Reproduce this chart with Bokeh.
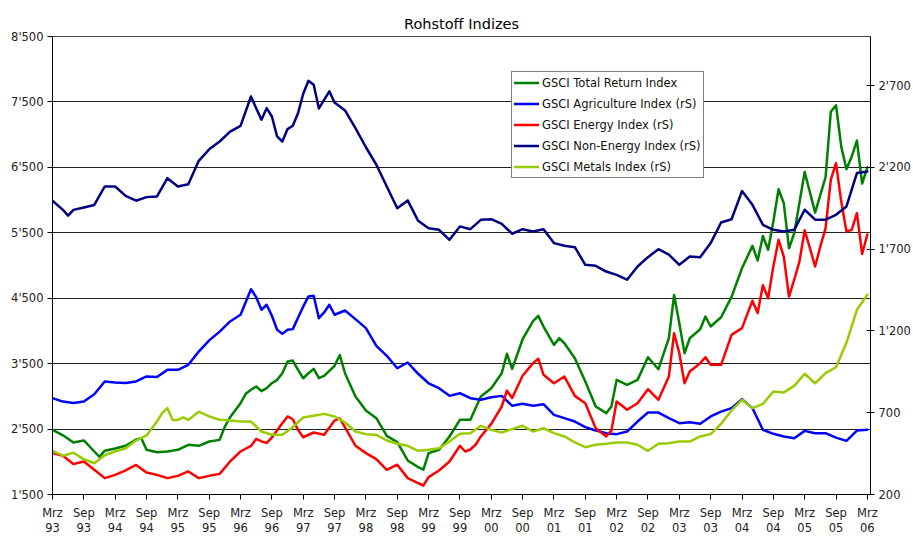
from bokeh.plotting import figure
from bokeh.models import Range1d, LinearAxis, FixedTicker, Legend, LegendItem
from bokeh.embed import file_html
from bokeh.resources import INLINE

# ---------------- data (months counted from March 1993) ----------------
left_ticks = [1500, 2500, 3500, 4500, 5500, 6500, 7500, 8500]
left_labels = ["1'500", "2'500", "3'500", "4'500", "5'500", "6'500", "7'500", "8'500"]
right_ticks = [200, 700, 1200, 1700, 2200, 2700]
right_labels = ["200", "700", "1'200", "1'700", "2'200", "2'700"]
x_ticks = [0, 6, 12, 18, 24, 30, 36, 42, 48, 54, 60, 66, 72, 78, 84, 90, 96,
           102, 108, 114, 120, 126, 132, 138, 144, 150, 156]
x_labels = ["Mrz\n93", "Sep\n93", "Mrz\n94", "Sep\n94", "Mrz\n95", "Sep\n95",
            "Mrz\n96", "Sep\n96", "Mrz\n97", "Sep\n97", "Mrz\n98", "Sep\n98",
            "Mrz\n99", "Sep\n99", "Mrz\n00", "Sep\n00", "Mrz\n01", "Sep\n01",
            "Mrz\n02", "Sep\n02", "Mrz\n03", "Sep\n03", "Mrz\n04", "Sep\n04",
            "Mrz\n05", "Sep\n05", "Mrz\n06"]

tr_months = [0, 2, 4, 6, 8, 9, 10, 12, 14, 16, 17, 18, 20, 22, 24, 26, 28, 30, 32, 33,
             34, 36, 37, 38, 39, 40, 41, 42, 43, 44, 45, 46, 47, 48, 49, 50, 51, 52, 53,
             54, 55, 56, 58, 60, 62, 64, 66, 68, 70, 71, 72, 74, 76, 78, 80, 82, 84, 86,
             87, 88, 90, 92, 93, 94, 96, 97, 98, 100, 102, 104, 106, 107, 108, 110, 112,
             114, 116, 118, 119, 120, 121, 122, 124, 125, 126, 128, 130, 132, 134, 135,
             136, 137, 138, 139, 140, 141, 142, 144, 146, 148, 149, 150, 151, 152, 153,
             154, 155, 156]
tr_values = [2489, 2405, 2295, 2326, 2157, 2075, 2170, 2203, 2244, 2340, 2360, 2183, 2147,
             2157, 2183, 2259, 2244, 2310, 2335, 2539, 2682, 2896, 3039, 3100, 3150, 3080,
             3125, 3201, 3252, 3353, 3532, 3547, 3405, 3277, 3353, 3420, 3277, 3313, 3389,
             3467, 3630, 3353, 2997, 2784, 2666, 2397, 2300, 2020, 1918, 1880, 2132, 2183,
             2386, 2641, 2641, 2998, 3125, 3353, 3650, 3420, 3873, 4150, 4230, 4067, 3787,
             3889, 3812, 3583, 3227, 2845, 2743, 2845, 3252, 3176, 3252, 3598, 3415, 3889,
             4550, 4117, 3659, 3888, 4026, 4220, 4067, 4209, 4520, 4958, 5300, 5076, 5450,
             5240, 5672, 6166, 5951, 5263, 5493, 6430, 5809, 6350, 7350, 7450, 6817, 6471,
             6665, 6910, 6250, 6500]

agri_months = [0, 2, 4, 6, 8, 10, 12, 14, 16, 18, 20, 22, 24, 26, 28, 30, 32, 34, 36, 38,
               39, 40, 41, 42, 43, 44, 45, 46, 48, 49, 50, 51, 52, 53, 54, 56, 58, 60, 62,
               64, 66, 68, 70, 72, 74, 76, 78, 80, 82, 84, 86, 88, 90, 92, 94, 96, 98, 100,
               102, 104, 106, 108, 110, 112, 114, 116, 118, 120, 122, 124, 126, 128, 130,
               132, 134, 136, 138, 140, 142, 144, 146, 148, 150, 152, 154, 156]
agri_values = [789, 768, 760, 768, 813, 891, 885, 881, 891, 922, 918, 962, 962, 993, 1074,
               1142, 1196, 1258, 1299, 1455, 1406, 1329, 1360, 1293, 1207, 1182, 1207, 1211,
               1349, 1411, 1415, 1278, 1313, 1360, 1299, 1325, 1272, 1217, 1109, 1048, 972,
               1007, 938, 880, 850, 803, 819, 789, 779, 795, 803, 742, 755, 742, 752, 687,
               667, 646, 612, 591, 575, 569, 585, 646, 701, 701, 667, 636, 642, 632, 677,
               707, 728, 783, 728, 596, 571, 555, 544, 589, 575, 575, 548, 528, 591, 596]

energy_months = [0, 2, 4, 6, 8, 10, 12, 14, 16, 18, 20, 22, 24, 26, 28, 30, 32, 34, 36, 38,
                 39, 40, 41, 42, 44, 45, 46, 47, 48, 50, 52, 54, 55, 56, 58, 60, 62, 64, 66,
                 68, 70, 71, 72, 74, 76, 78, 79, 80, 81, 82, 84, 86, 87, 88, 90, 92, 93, 94,
                 96, 98, 100, 102, 104, 106, 107, 108, 110, 112, 114, 116, 118, 119, 120,
                 121, 122, 124, 125, 126, 128, 130, 132, 134, 135, 136, 137, 138, 139, 140,
                 141, 142, 143, 144, 145, 146, 147, 148, 149, 150, 151, 152, 153, 154, 155,
                 156]
energy_values = [453, 437, 387, 402, 351, 300, 320, 347, 381, 334, 320, 300, 314, 341, 300,
                 314, 326, 402, 463, 497, 540, 525, 515, 548, 636, 677, 660, 595, 550, 579,
                 565, 652, 665, 611, 498, 453, 416, 351, 382, 300, 269, 255, 306, 347, 402,
                 498, 463, 475, 504, 555, 632, 738, 835, 790, 926, 1003, 1030, 932, 880, 921,
                 803, 758, 605, 555, 590, 769, 718, 758, 844, 779, 921, 1186, 1064, 880, 952,
                 1003, 1039, 993, 993, 1176, 1217, 1385, 1309, 1480, 1400, 1594, 1757, 1655,
                 1410, 1513, 1625, 1815, 1706, 1594, 1716, 1828, 2124, 2226, 1991, 1808,
                 1818, 1920, 1670, 1790]

nonen_months = [0, 2, 3, 4, 6, 8, 10, 12, 14, 16, 18, 20, 22, 24, 26, 28, 30, 32, 34, 36,
                38, 39, 40, 41, 42, 43, 44, 45, 46, 47, 48, 49, 50, 51, 52, 53, 54, 56, 58,
                60, 62, 64, 66, 68, 70, 72, 74, 76, 78, 80, 82, 84, 86, 88, 90, 92, 94, 96,
                98, 100, 102, 104, 106, 108, 110, 112, 114, 116, 118, 120, 122, 124, 126,
                128, 130, 132, 134, 136, 138, 140, 142, 144, 146, 148, 150, 152, 154, 156]
nonen_values = [1996, 1940, 1905, 1940, 1955, 1970, 2083, 2083, 2026, 1996, 2018, 2022,
                2134, 2083, 2097, 2240, 2310, 2358, 2419, 2454, 2633, 2562, 2491, 2562,
                2511, 2389, 2358, 2434, 2454, 2531, 2650, 2729, 2705, 2560, 2613, 2665,
                2597, 2548, 2440, 2323, 2216, 2083, 1950, 1998, 1873, 1828, 1818, 1757,
                1839, 1822, 1879, 1883, 1855, 1794, 1822, 1808, 1822, 1737, 1721, 1712,
                1604, 1598, 1563, 1543, 1513, 1594, 1651, 1700, 1666, 1604, 1655, 1651,
                1737, 1863, 1883, 2055, 1971, 1849, 1818, 1808, 1818, 1941, 1880, 1880,
                1910, 1961, 2165, 2175]

metals_months = [0, 2, 4, 6, 8, 10, 12, 14, 16, 18, 20, 21, 22, 23, 24, 25, 26, 28, 30, 32,
                 34, 36, 38, 40, 42, 44, 46, 48, 50, 52, 54, 56, 58, 60, 62, 64, 66, 68, 70,
                 72, 74, 76, 78, 80, 82, 84, 86, 88, 90, 92, 94, 96, 98, 100, 102, 104, 106,
                 108, 110, 112, 114, 116, 118, 120, 122, 124, 126, 128, 130, 132, 134, 136,
                 138, 140, 142, 144, 146, 148, 150, 152, 154, 156]
metals_values = [467, 437, 455, 416, 391, 440, 463, 483, 530, 561, 646, 697, 728, 656, 656,
                 671, 656, 706, 677, 657, 653, 646, 646, 585, 565, 565, 611, 671, 681, 693,
                 677, 640, 585, 569, 565, 530, 510, 498, 467, 473, 483, 524, 571, 575, 620,
                 595, 579, 600, 620, 585, 605, 575, 555, 518, 489, 504, 510, 518, 518, 504,
                 467, 510, 514, 524, 524, 555, 569, 632, 714, 779, 728, 754, 830, 824, 864,
                 938, 880, 942, 978, 1129, 1329, 1421]

FONT = "DejaVu Sans"

p = figure(width=913, height=538, x_range=Range1d(0, 156.6), y_range=Range1d(1500, 8500),
           output_backend="svg", toolbar_location=None,
           min_border_left=52, min_border_right=43, min_border_top=36, min_border_bottom=44,
           title="Rohstoff Indizes")
p.title.text_font = FONT
p.title.text_font_size = "14.5px"
p.title.text_font_style = "normal"
p.title.align = "center"
p.title.text_color = "black"

p.extra_y_ranges = {"rs": Range1d(200, 3000)}

style = dict(line_width=2.5, line_join="round", line_cap="round")
r_tr = p.line(tr_months, tr_values, line_color="#008000", **style)
r_ag = p.line(agri_months, agri_values, line_color="#0000FF", y_range_name="rs", **style)
r_en = p.line(energy_months, energy_values, line_color="#FF0000", y_range_name="rs", **style)
r_ne = p.line(nonen_months, nonen_values, line_color="#000080", y_range_name="rs", **style)
r_me = p.line(metals_months, metals_values, line_color="#99CC00", y_range_name="rs", **style)

# axes
for ax in [p.xaxis[0], p.yaxis[0]]:
    ax.axis_line_color = "black"
    ax.major_tick_line_color = "black"
    ax.minor_tick_line_color = None
    ax.major_tick_in = 0
    ax.major_tick_out = 5
    ax.major_label_text_font = FONT
    ax.major_label_text_font_size = "11.5px"
    ax.major_label_text_color = "#222222"

p.yaxis[0].ticker = FixedTicker(ticks=left_ticks)
p.yaxis[0].major_label_overrides = dict(zip(left_ticks, left_labels))
p.yaxis[0].major_label_standoff = 4

p.xaxis[0].ticker = FixedTicker(ticks=x_ticks)
p.xaxis[0].major_label_overrides = dict(zip(x_ticks, x_labels))
p.xaxis[0].major_label_standoff = 6
p.xaxis[0].major_label_text_line_height = 1.1

raxis = LinearAxis(y_range_name="rs", ticker=FixedTicker(ticks=right_ticks),
                   major_label_overrides=dict(zip(right_ticks, right_labels)))
raxis.axis_line_color = "black"
raxis.major_tick_line_color = "black"
raxis.minor_tick_line_color = None
raxis.major_tick_in = 4
raxis.major_tick_out = 4
raxis.major_label_standoff = 4
raxis.major_label_text_font = FONT
raxis.major_label_text_font_size = "11.5px"
raxis.major_label_text_color = "#222222"
p.add_layout(raxis, "right")

p.xgrid.visible = False
p.ygrid.ticker = FixedTicker(ticks=left_ticks)
p.ygrid.grid_line_color = "#222222"
p.ygrid.grid_line_width = 1
p.outline_line_color = "#444444"
p.background_fill_color = "white"
p.border_fill_color = "white"

legend = Legend(items=[
    LegendItem(label="GSCI Total Return Index", renderers=[r_tr]),
    LegendItem(label="GSCI Agriculture Index (rS)", renderers=[r_ag]),
    LegendItem(label="GSCI Energy Index (rS)", renderers=[r_en]),
    LegendItem(label="GSCI Non-Energy Index (rS)", renderers=[r_ne]),
    LegendItem(label="GSCI Metals Index (rS)", renderers=[r_me]),
], location=(459, 316))
legend.label_text_font = FONT
legend.label_text_font_size = "11.5px"
legend.label_text_color = "#111111"
legend.glyph_width = 25
legend.glyph_height = 17
legend.label_height = 17
legend.label_standoff = 3
legend.spacing = 4
legend.padding = 2
legend.margin = 0
legend.border_line_color = "black"
legend.border_line_width = 1
legend.background_fill_alpha = 1
p.add_layout(legend, "center")

open("out.html", "w").write(file_html(p, INLINE))
